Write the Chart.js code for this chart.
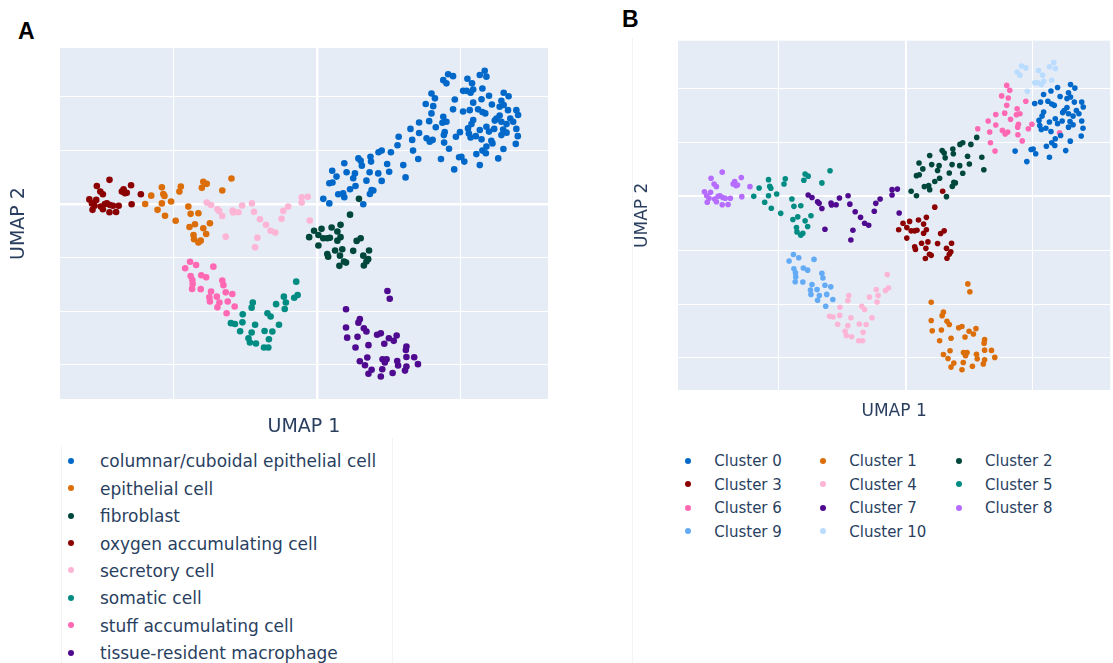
<!DOCTYPE html>
<html>
<head>
<meta charset="utf-8">
<title>UMAP cell types and clusters</title>
<script src="https://cdn.jsdelivr.net/npm/chart.js@4.4.1/dist/chart.umd.min.js"></script>
<style>
  body { margin: 0; background: #fff; width: 1113px; height: 663px; overflow: hidden; position: relative; font-family: "DejaVu Sans", Verdana, sans-serif; }
  canvas { position: absolute; top: 0; }
  #umapA { left: 0; }
  #umapB { left: 600px; }
  .panel-label { position: absolute; font-family: "Liberation Sans", Arial, sans-serif; font-weight: bold; font-size: 23px; line-height: 23px; color: #000; }
  .legend-text { position: absolute; color: #2a3f5f; white-space: nowrap; }
  .legend-dot { position: absolute; width: 6px; height: 6px; border-radius: 50%; }
  .sep { position: absolute; background: #f3f3f3; width: 1px; }
</style>
</head>
<body>

<div class="panel-label" style="left:18px; top:20px;">A</div>
<div class="panel-label" style="left:622px; top:8px;">B</div>
<div class="sep" style="left:632px; top:38px; height:625px;"></div>
<div class="sep" style="left:61px; top:446px; height:217px;"></div>
<div class="sep" style="left:392px; top:438px; height:225px;"></div>

<canvas id="umapA" width="560" height="445"></canvas>
<canvas id="umapB" width="513" height="426"></canvas>

<script>
// =========================
// DATA  (UMAP 1, UMAP 2)
// =========================

// panel A: cell types
const columnarCell = [[4.56,4.84],[4.73,4.77],[4.39,4.62],[4.50,4.50],[5.83,4.97],[5.66,4.81],[5.89,4.75],[5.23,4.67],[5.39,4.50],[5.08,4.22],[5.20,4.22],[5.34,4.15],[5.43,4.27],[5.75,4.31],[3.98,4.12],[4.10,3.94],[4.79,3.90],[3.78,3.73],[4.04,3.65],[4.73,3.53],[5.08,3.45],[5.31,3.50],[5.43,3.78],[5.72,3.91],[5.98,4.04],[6.49,4.15],[6.66,4.02],[6.41,3.85],[6.49,3.69],[6.08,3.71],[5.60,3.53],[5.75,3.43],[5.85,3.38],[6.35,3.63],[6.64,3.50],[6.93,3.50],[6.99,3.32],[6.35,3.30],[6.24,3.19],[6.18,3.11],[6.72,3.19],[6.41,3.07],[6.59,2.98],[6.82,3.07],[5.43,3.13],[5.37,2.98],[5.25,2.82],[5.66,2.76],[5.89,2.88],[5.98,2.70],[6.16,2.80],[6.47,2.78],[6.93,2.80],[6.59,2.66],[6.41,2.57],[6.98,2.53],[3.98,3.38],[4.39,3.25],[4.50,3.07],[4.36,3.03],[3.55,3.04],[3.90,3.09],[4.13,2.86],[4.44,2.68],[4.41,2.57],[4.97,2.68],[4.83,2.51],[5.28,2.63],[5.52,2.53],[5.34,2.48],[5.72,2.41],[6.06,2.36],[5.89,2.14],[6.10,2.26],[6.91,2.24],[6.48,2.05],[5.75,1.99],[5.54,1.86],[5.87,1.89],[6.30,1.70],[5.02,1.76],[5.12,1.58],[4.94,1.74],[4.59,2.06],[4.31,1.68],[4.77,1.29],[5.66,1.45],[4.42,2.29],[4.02,2.39],[3.81,2.45],[3.92,2.32],[3.25,2.80],[3.31,2.39],[3.55,2.65],[2.84,2.51],[2.80,2.19],[3.34,1.99],[3.52,1.68],[3.00,1.45],[3.08,0.99],[2.57,1.93],[2.25,1.99],[2.14,1.93],[1.86,1.76],[1.88,1.58],[2.44,1.49],[2.51,1.20],[2.25,0.86],[1.83,1.18],[2.13,1.14],[1.52,1.61],[1.44,1.70],[1.56,1.43],[1.32,1.14],[1.26,0.96],[1.34,0.67],[0.68,1.02],[0.95,1.52],[1.03,1.18],[0.53,1.24],[0.43,0.77],[0.54,0.80],[0.74,0.36],[0.91,0.40],[0.95,0.25],[1.15,0.55],[1.72,0.87],[1.90,0.52],[1.84,0.37],[1.96,0.50],[0.22,0.19],[0.43,0.02],[1.61,-0.01]];
const epithelialCell = [[-5.76,0.31],[-5.97,0.00],[-5.39,0.62],[-5.34,0.37],[-5.30,0.30],[-5.39,0.02],[-5.07,0.09],[-5.54,-0.22],[-5.28,-0.44],[-4.91,-0.63],[-4.73,0.65],[-4.78,0.46],[-3.95,0.83],[-3.83,0.75],[-4.00,0.60],[-3.29,0.50],[-2.97,0.95],[-4.47,-0.10],[-4.39,-0.37],[-4.12,-0.35],[-3.72,-0.72],[-4.24,-0.76],[-4.43,-0.86],[-3.95,-0.91],[-3.85,-1.12],[-4.29,-1.16],[-4.27,-1.32],[-4.12,-1.44],[-4.04,-1.37]];
const fibroblast = [[1.46,0.19],[1.15,-0.40],[-0.10,-1.00],[0.16,-0.93],[0.51,-0.88],[0.82,-0.78],[-0.27,-1.24],[0.05,-1.16],[0.22,-1.28],[0.36,-1.28],[0.45,-1.26],[0.71,-1.03],[0.82,-1.24],[0.71,-1.37],[0.05,-1.55],[0.36,-1.87],[0.39,-1.97],[0.63,-1.74],[0.88,-1.69],[0.80,-1.93],[0.94,-2.15],[1.01,-2.19],[0.78,-2.31],[1.26,-1.75],[1.38,-1.38],[1.52,-1.28],[1.61,-1.93],[1.81,-1.74],[1.78,-2.06],[1.72,-2.15],[1.63,-2.30]];
const oxygenCell = [[-7.21,0.90],[-7.65,0.67],[-7.53,0.46],[-7.44,0.36],[-7.91,0.17],[-7.67,0.15],[-7.82,0.02],[-7.80,-0.22],[-7.51,-0.10],[-7.44,-0.20],[-7.30,0.02],[-7.19,-0.04],[-7.09,-0.07],[-6.89,-0.07],[-6.98,-0.30],[-7.21,-0.31],[-6.78,0.46],[-6.72,0.55],[-6.61,0.42],[-6.67,0.40],[-6.46,0.70],[-6.12,0.36],[-6.44,-0.01],[-7.73,-0.07],[-7.37,0.00]];
const secretoryCell = [[-3.83,0.05],[-3.68,-0.04],[-3.46,-0.20],[-3.40,-0.26],[-3.29,-0.45],[-2.93,-0.25],[-2.91,-0.32],[-2.73,-0.31],[-2.60,-0.06],[-2.26,0.02],[-2.19,-0.29],[-1.98,-0.57],[-1.77,-0.78],[-1.61,-1.00],[-1.45,-1.07],[-3.17,-1.22],[-2.07,-1.26],[-2.15,-1.62],[-1.17,-0.26],[-1.00,-0.10],[-1.23,-0.55],[-0.53,0.25],[-0.32,0.27],[-0.53,0.05],[-0.25,-0.62]];
const somaticCell = [[-2.58,-4.12],[-2.99,-4.45],[-2.85,-4.48],[-2.59,-4.42],[-2.67,-4.75],[-2.23,-3.68],[-2.27,-3.87],[-2.15,-4.51],[-2.27,-4.80],[-2.38,-5.01],[-2.33,-5.17],[-2.12,-5.21],[-1.84,-5.36],[-1.69,-5.36],[-1.82,-4.74],[-1.55,-4.76],[-1.67,-5.05],[-1.72,-4.08],[-1.61,-4.20],[-1.32,-4.51],[-1.42,-3.74],[-1.15,-3.46],[-1.08,-3.68],[-1.12,-3.92],[-0.79,-3.50],[-0.67,-3.40],[-0.72,-2.90]];
const stuffCell = [[-4.41,-2.16],[-4.20,-2.28],[-4.58,-2.40],[-3.60,-2.34],[-4.39,-2.69],[-4.33,-2.84],[-4.32,-2.99],[-4.02,-2.66],[-3.85,-2.74],[-4.04,-3.18],[-4.34,-3.17],[-3.29,-2.86],[-3.25,-3.03],[-3.68,-3.27],[-3.48,-3.46],[-3.74,-3.48],[-3.72,-3.64],[-3.39,-3.68],[-3.17,-3.30],[-2.94,-3.36],[-3.10,-3.64],[-2.86,-3.83],[-3.46,-3.86],[-3.14,-4.08]];
const macrophage = [[2.45,-3.25],[2.53,-3.54],[1.01,-3.93],[1.49,-4.30],[1.44,-4.43],[1.63,-4.64],[1.72,-4.76],[1.01,-4.61],[1.05,-4.99],[1.41,-4.96],[1.34,-5.36],[1.79,-5.27],[2.09,-4.88],[2.22,-4.83],[2.34,-5.22],[2.50,-5.01],[2.67,-5.11],[2.77,-4.91],[3.11,-5.32],[3.09,-5.45],[3.11,-5.71],[3.38,-5.72],[3.51,-5.98],[3.11,-6.07],[3.06,-6.22],[2.79,-5.86],[2.82,-6.03],[2.28,-5.80],[2.42,-5.80],[2.36,-5.92],[1.75,-5.73],[1.49,-5.87],[1.67,-6.02],[1.90,-6.19],[1.79,-6.34],[2.27,-6.17],[2.22,-6.44],[2.63,-6.31]];

// panel B: clusters
const cluster0 = [[5.08,3.45],[5.31,3.50],[5.43,3.78],[5.72,3.91],[5.98,4.04],[6.49,4.15],[6.66,4.02],[6.41,3.85],[6.49,3.69],[6.08,3.71],[5.60,3.53],[5.75,3.43],[5.85,3.38],[6.35,3.63],[6.64,3.50],[6.93,3.50],[6.99,3.32],[6.35,3.30],[6.24,3.19],[6.18,3.11],[6.72,3.19],[6.41,3.07],[6.59,2.98],[6.82,3.07],[5.43,3.13],[5.37,2.98],[5.25,2.82],[5.66,2.76],[5.89,2.88],[5.98,2.70],[6.16,2.80],[6.47,2.78],[6.93,2.80],[6.59,2.66],[6.41,2.57],[6.98,2.53],[5.28,2.63],[5.52,2.53],[5.34,2.48],[5.72,2.41],[5.89,2.14],[6.10,2.26],[6.91,2.24],[6.48,2.05],[5.75,1.99],[5.54,1.86],[5.87,1.89],[6.30,1.70],[5.02,1.76],[5.12,1.58],[4.94,1.74],[4.31,1.68],[4.77,1.29],[5.66,1.45]];
const cluster1 = [[2.45,-3.25],[2.53,-3.54],[1.01,-3.93],[1.49,-4.30],[1.44,-4.43],[1.63,-4.64],[1.72,-4.76],[1.01,-4.61],[1.05,-4.99],[1.41,-4.96],[1.34,-5.36],[1.79,-5.27],[2.09,-4.88],[2.22,-4.83],[2.34,-5.22],[2.50,-5.01],[2.67,-5.11],[2.77,-4.91],[3.11,-5.32],[3.09,-5.45],[3.11,-5.71],[3.38,-5.72],[3.51,-5.98],[3.11,-6.07],[3.06,-6.22],[2.79,-5.86],[2.82,-6.03],[2.28,-5.80],[2.42,-5.80],[2.36,-5.92],[1.75,-5.73],[1.49,-5.87],[1.67,-6.02],[1.90,-6.19],[1.79,-6.34],[2.27,-6.17],[2.22,-6.44],[2.63,-6.31]];
const cluster2 = [[2.80,2.19],[3.00,1.45],[3.08,0.99],[2.57,1.93],[2.25,1.99],[2.14,1.93],[1.86,1.76],[1.88,1.58],[2.44,1.49],[2.51,1.20],[2.25,0.86],[1.83,1.18],[2.13,1.14],[1.52,1.61],[1.44,1.70],[1.56,1.43],[1.32,1.14],[1.26,0.96],[1.34,0.67],[0.68,1.02],[0.95,1.52],[1.03,1.18],[0.53,1.24],[0.43,0.77],[0.54,0.80],[0.74,0.36],[0.91,0.40],[0.95,0.25],[1.15,0.55],[1.72,0.87],[1.90,0.52],[1.84,0.37],[1.96,0.50],[0.22,0.19],[0.43,0.02],[1.61,-0.01]];
const cluster3 = [[1.46,0.19],[1.15,-0.40],[-0.10,-1.00],[0.16,-0.93],[0.51,-0.88],[0.82,-0.78],[-0.27,-1.24],[0.05,-1.16],[0.22,-1.28],[0.36,-1.28],[0.45,-1.26],[0.71,-1.03],[0.82,-1.24],[0.71,-1.37],[0.05,-1.55],[0.36,-1.87],[0.39,-1.97],[0.63,-1.74],[0.88,-1.69],[0.80,-1.93],[0.94,-2.15],[1.01,-2.19],[0.78,-2.31],[1.26,-1.75],[1.38,-1.38],[1.52,-1.28],[1.61,-1.93],[1.81,-1.74],[1.78,-2.06],[1.72,-2.15],[1.63,-2.30]];
const cluster4 = [[-2.58,-4.12],[-2.99,-4.45],[-2.85,-4.48],[-2.59,-4.42],[-2.67,-4.75],[-2.23,-3.68],[-2.27,-3.87],[-2.15,-4.51],[-2.27,-4.80],[-2.38,-5.01],[-2.33,-5.17],[-2.12,-5.21],[-1.84,-5.36],[-1.69,-5.36],[-1.82,-4.74],[-1.55,-4.76],[-1.67,-5.05],[-1.72,-4.08],[-1.61,-4.20],[-1.32,-4.51],[-1.42,-3.74],[-1.15,-3.46],[-1.08,-3.68],[-1.12,-3.92],[-0.79,-3.50],[-0.67,-3.40],[-0.72,-2.90]];
const cluster5 = [[-5.76,0.31],[-5.97,0.00],[-5.39,0.62],[-5.34,0.37],[-5.30,0.30],[-5.39,0.02],[-5.07,0.09],[-5.54,-0.22],[-5.28,-0.44],[-4.91,-0.63],[-4.73,0.65],[-4.78,0.46],[-3.95,0.83],[-3.83,0.75],[-4.00,0.60],[-3.29,0.50],[-2.97,0.95],[-4.47,-0.10],[-4.39,-0.37],[-4.12,-0.35],[-3.72,-0.72],[-4.24,-0.76],[-4.43,-0.86],[-3.95,-0.91],[-3.85,-1.12],[-4.29,-1.16],[-4.27,-1.32],[-4.12,-1.44],[-4.04,-1.37]];
const cluster6 = [[3.98,4.12],[4.10,3.94],[3.78,3.73],[4.04,3.65],[4.73,3.53],[3.98,3.38],[4.39,3.25],[4.50,3.07],[4.36,3.03],[3.55,3.04],[3.90,3.09],[4.13,2.86],[4.44,2.68],[4.41,2.57],[4.97,2.68],[4.83,2.51],[6.06,2.36],[4.59,2.06],[4.42,2.29],[4.02,2.39],[3.81,2.45],[3.92,2.32],[3.25,2.80],[3.31,2.39],[3.55,2.65],[2.84,2.51],[3.34,1.99],[3.52,1.68]];
const cluster7 = [[-3.83,0.05],[-3.68,-0.04],[-3.46,-0.20],[-3.40,-0.26],[-3.29,-0.45],[-2.93,-0.25],[-2.91,-0.32],[-2.73,-0.31],[-2.60,-0.06],[-2.26,0.02],[-2.19,-0.29],[-1.98,-0.57],[-1.77,-0.78],[-1.61,-1.00],[-1.45,-1.07],[-3.17,-1.22],[-2.07,-1.26],[-2.15,-1.62],[-1.17,-0.26],[-1.00,-0.10],[-1.23,-0.55],[-0.53,0.25],[-0.32,0.27],[-0.53,0.05],[-0.25,-0.62]];
const cluster8 = [[-7.21,0.90],[-7.65,0.67],[-7.53,0.46],[-7.44,0.36],[-7.91,0.17],[-7.67,0.15],[-7.82,0.02],[-7.80,-0.22],[-7.51,-0.10],[-7.44,-0.20],[-7.30,0.02],[-7.19,-0.04],[-7.09,-0.07],[-6.89,-0.07],[-6.98,-0.30],[-7.21,-0.31],[-6.78,0.46],[-6.72,0.55],[-6.61,0.42],[-6.67,0.40],[-6.46,0.70],[-6.12,0.36],[-6.44,-0.01],[-7.73,-0.07],[-7.37,0.00]];
const cluster9 = [[-4.41,-2.16],[-4.20,-2.28],[-4.58,-2.40],[-3.60,-2.34],[-4.39,-2.69],[-4.33,-2.84],[-4.32,-2.99],[-4.02,-2.66],[-3.85,-2.74],[-4.04,-3.18],[-4.34,-3.17],[-3.29,-2.86],[-3.25,-3.03],[-3.68,-3.27],[-3.48,-3.46],[-3.74,-3.48],[-3.72,-3.64],[-3.39,-3.68],[-3.17,-3.30],[-2.94,-3.36],[-3.10,-3.64],[-2.86,-3.83],[-3.46,-3.86],[-3.14,-4.08]];
const cluster10 = [[4.56,4.84],[4.73,4.77],[4.39,4.62],[4.50,4.50],[5.83,4.97],[5.66,4.81],[5.89,4.75],[5.23,4.67],[5.39,4.50],[5.08,4.22],[5.20,4.22],[5.34,4.15],[5.43,4.27],[5.75,4.31],[4.79,3.90]];

const cellTypeLabels = ["columnar/cuboidal epithelial cell", "epithelial cell", "fibroblast", "oxygen accumulating cell",
  "secretory cell", "somatic cell", "stuff accumulating cell", "tissue-resident macrophage"];
const cellTypePoints = [columnarCell, epithelialCell, fibroblast, oxygenCell, secretoryCell, somaticCell, stuffCell, macrophage];
const cellTypeColors = ["#0068c9", "#dc6e0a", "#00473b", "#8b0000", "#fdb5d6", "#008c82", "#ff69b4", "#4f0a8f"];

const clusterLabels = ["Cluster 0", "Cluster 1", "Cluster 2", "Cluster 3", "Cluster 4", "Cluster 5",
  "Cluster 6", "Cluster 7", "Cluster 8", "Cluster 9", "Cluster 10"];
const clusterPoints = [cluster0, cluster1, cluster2, cluster3, cluster4, cluster5, cluster6, cluster7, cluster8, cluster9, cluster10];
const clusterColors = ["#0068c9", "#dc6e0a", "#00473b", "#8b0000", "#fdb5d6", "#008c82", "#ff69b4", "#4f0a8f", "#b56cff", "#64abf5", "#b9dcff"];

// =========================
// PLOT BACKGROUND
// =========================
const plotBg = {
    id: "plotBg",
    beforeDraw(chart) {
        const { ctx, chartArea: a } = chart;
        ctx.save();
        ctx.fillStyle = "#e5ecf6";
        ctx.fillRect(a.left, a.top, a.right - a.left, a.bottom - a.top);
        ctx.restore();
    }
};

function axis(min, max, step, title, size, titlePad, zeroW) {
    return {
        min, max,
        border: { display: false },
        ticks: { display: false, stepSize: step, includeBounds: false },
        grid: {
            color: "#ffffff",
            drawTicks: false,
            lineWidth: c => (c.tick && c.tick.value === 0) ? zeroW : 1
        },
        title: {
            display: true, text: title, color: "#2a3f5f",
            font: { family: "DejaVu Sans", size: size, lineHeight: 1.2 },
            padding: titlePad
        }
    };
}

// =========================
// CHARTS
// =========================
function makeUmap(id, labels, points, colors, o) {
    return new Chart(document.getElementById(id), {
        type: "scatter",
        data: {
            datasets: labels.map((lab, i) => ({
                label: lab,
                data: points[i].map(p => ({ x: p[0], y: p[1] })),
                backgroundColor: colors[i],
                borderWidth: 0,
                pointRadius: o.r,
                pointHoverRadius: o.r
            }))
        },
        options: {
            responsive: false,
            animation: false,
            events: [],
            layout: { padding: o.pad },
            plugins: { legend: { display: false }, tooltip: { enabled: false } },
            scales: {
                x: axis(o.x[0], o.x[1], 5, "UMAP 1", o.font, o.xPad, o.zero),
                y: axis(o.y[0], o.y[1], 2, "UMAP 2", o.font, o.yPad, o.zero)
            }
        },
        plugins: [plotBg]
    });
}

const chartA = makeUmap("umapA", cellTypeLabels, cellTypePoints, cellTypeColors, {
    r: 3.3, font: 19, zero: 2.5,
    x: [-8.93, 8.03], y: [-7.28, 5.82],
    pad: { left: 3.6, top: 48, right: 12, bottom: 2.1 },
    xPad: { top: 17.1, bottom: 4 },
    yPad: { top: 4, bottom: 29.6 }
});

const chartB = makeUmap("umapB", clusterLabels, clusterPoints, clusterColors, {
    r: 2.8, font: 17, zero: 2,
    x: [-8.95, 8.05], y: [-7.19, 5.78],
    pad: { left: 28, top: 40.7, right: 0, bottom: 0.3 },
    xPad: { top: 11.3, bottom: 4 },
    yPad: { top: 4, bottom: 25.6 }
});

// =========================
// LEGENDS (html, from datasets)
// =========================
function addLegendItem(color, text, dotX, textX, cy, size) {
    const dot = document.createElement("div");
    dot.className = "legend-dot";
    dot.style.left = (dotX - 3) + "px";
    dot.style.top = (cy - 3) + "px";
    dot.style.background = color;
    document.body.appendChild(dot);

    const t = document.createElement("div");
    t.className = "legend-text";
    t.textContent = text;
    t.style.fontSize = size + "px";
    t.style.lineHeight = (size * 1.2) + "px";
    t.style.left = textX + "px";
    t.style.top = (cy - size * 0.55) + "px";
    document.body.appendChild(t);
}

chartA.data.datasets.forEach((ds, i) => {
    addLegendItem(ds.backgroundColor, ds.label, 70.7, 100, 460.7 + i * 27.4, 17);
});

const colDot = [688.3, 823.3, 959.3];
const colText = [714.3, 849.3, 985];
chartB.data.datasets.forEach((ds, i) => {
    const c = i % 3, r = Math.floor(i / 3);
    addLegendItem(ds.backgroundColor, ds.label, colDot[c], colText[c], 460.7 + r * 23.5, 15);
});
</script>
</body>
</html>
